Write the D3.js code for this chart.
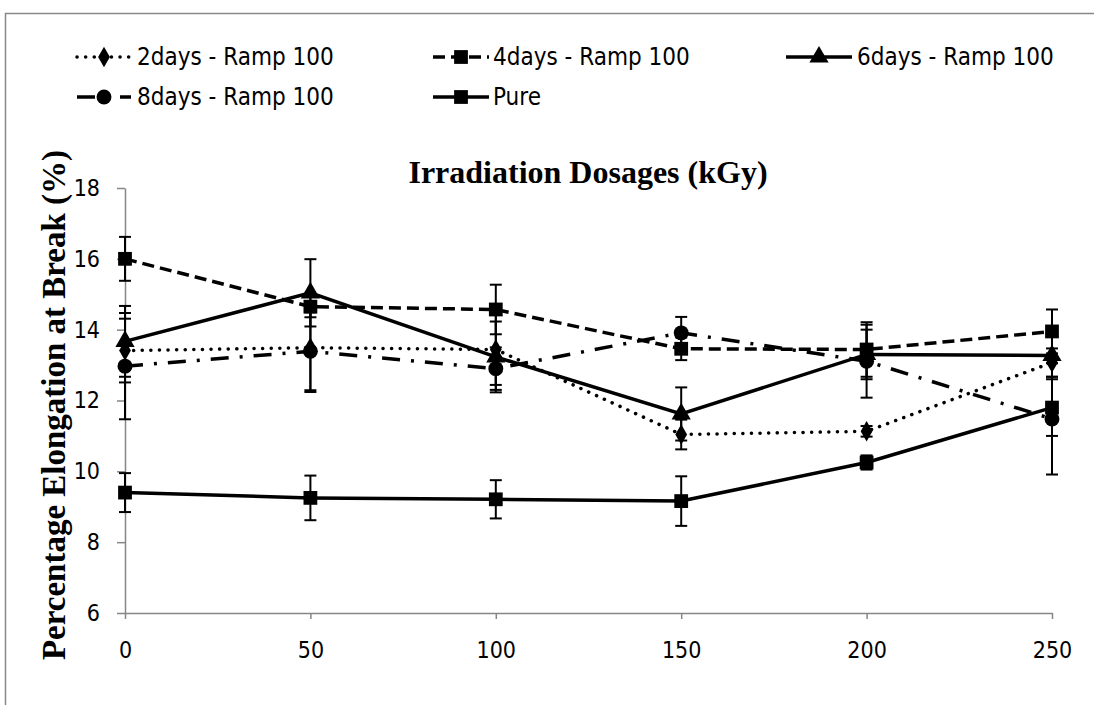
<!DOCTYPE html>
<meta charset="utf-8">
<style>
body { margin: 0; background: #fff; }
svg { display: block; }
.tick text, .legend text {
    font-family: "DejaVu Sans Condensed", "DejaVu Sans", sans-serif;
    font-stretch: condensed;
    fill: #000;
}
.axis path, .axis line { stroke: #868686; stroke-width: 1.5px; }
.series path.line { fill: none; stroke: #000; stroke-width: 3.5px; }
.err { stroke: #000; stroke-width: 2px; }
.ttl { font-family: "Liberation Serif", "Times New Roman", serif; font-weight: bold; }
</style>
<body>
<div id="chart"></div>
<script src="https://cdnjs.cloudflare.com/ajax/libs/d3/7.8.5/d3.min.js"></script>
<script>
// irradiation dose (kGy)
var doses = [0, 50, 100, 150, 200, 250];

var seriesNames = ["2days - Ramp 100", "4days - Ramp 100", "6days - Ramp 100", "8days - Ramp 100", "Pure"];

// elongation at break (%)
var days2 = [13.41, 13.49, 13.44, 11.04, 11.13, 13.07];
var days4 = [16.0, 14.65, 14.57, 13.46, 13.44, 13.95];
var days6 = [13.67, 15.04, 13.23, 11.62, 13.3, 13.27];
var days8 = [12.97, 13.39, 12.9, 13.91, 13.11, 11.48];
var pure  = [9.4, 9.25, 9.21, 9.16, 10.25, 11.8];

// error bar half widths
var err2 = [0.9, 1.25, 1.0, 0.42, 0.15, 0.4];
var err4 = [0.62, 0.3, 0.7, 0.32, 0.77, 0.62];
var err6 = [1.0, 0.95, 1.0, 0.75, 0.7, 0.6];
var err8 = [1.5, 1.1, 0.6, 0.45, 1.03, 1.57];
var errP = [0.55, 0.63, 0.54, 0.7, 0.2, 0.8];

var yTicks = [6, 8, 10, 12, 14, 16, 18];
var xTicks = [0, 50, 100, 150, 200, 250];

var W = 1094, H = 705;
var svg = d3.select("#chart").append("svg").attr("width", W).attr("height", H);

// outer chart frame (top and left edge visible)
svg.append("path")
    .attr("d", "M5.5,705 V13.5 H1094")
    .attr("fill", "none")
    .attr("stroke", "#888")
    .attr("stroke-width", 1.5);

var x = d3.scaleLinear().domain([0, 250]).range([125, 1052]);
var y = d3.scaleLinear().domain([6, 18]).range([613, 188]);

svg.append("g")
    .attr("class", "axis")
    .attr("transform", "translate(0," + y(6) + ")")
    .call(d3.axisBottom(x).tickValues(xTicks).tickSize(6).tickSizeOuter(0).tickPadding(23))
    .selectAll("text").style("font-size", "23px");

svg.append("g")
    .attr("class", "axis")
    .attr("transform", "translate(" + x(0) + ",0)")
    .call(d3.axisLeft(y).tickValues(yTicks).tickSize(8).tickSizeOuter(0).tickPadding(17))
    .selectAll("text").style("font-size", "23px");

svg.append("text")
    .attr("class", "ttl")
    .attr("x", 588).attr("y", 183)
    .attr("text-anchor", "middle")
    .style("font-size", "32px")
    .text("Irradiation Dosages (kGy)");

svg.append("text")
    .attr("class", "ttl")
    .attr("transform", "translate(65,405) rotate(-90)")
    .attr("text-anchor", "middle")
    .style("font-size", "33px")
    .text("Percentage Elongation at Break (%)");

var series = [
    { name: seriesNames[0], vals: days2, err: err2, dash: "0.1 8.5", cap: "round", sym: d3.symbolDiamond, size: 120 },
    { name: seriesNames[1], vals: days4, err: err4, dash: "12 6", cap: "butt", sym: d3.symbolSquare, size: 190 },
    { name: seriesNames[2], vals: days6, err: err6, dash: null, cap: "butt", sym: d3.symbolTriangle, size: 160 },
    { name: seriesNames[3], vals: days8, err: err8, dash: "18 11 3 11", cap: "butt", sym: d3.symbolCircle, size: 175 },
    { name: seriesNames[4], vals: pure, err: errP, dash: null, cap: "butt", sym: d3.symbolSquare, size: 190 }
];

var line = d3.line().x(function(d) { return x(d[0]); }).y(function(d) { return y(d[1]); });

// error bars first
series.forEach(function(s) {
    var g = svg.append("g");
    doses.forEach(function(dv, i) {
        var hi = y(s.vals[i] + s.err[i]), lo = y(s.vals[i] - s.err[i]), cx = x(dv);
        g.append("line").attr("class", "err").attr("x1", cx).attr("x2", cx).attr("y1", hi).attr("y2", lo);
        g.append("line").attr("class", "err").attr("x1", cx - 6).attr("x2", cx + 6).attr("y1", hi).attr("y2", hi);
        g.append("line").attr("class", "err").attr("x1", cx - 6).attr("x2", cx + 6).attr("y1", lo).attr("y2", lo);
    });
});

series.forEach(function(s) {
    var g = svg.append("g").attr("class", "series");
    var pts = doses.map(function(dv, i) { return [dv, s.vals[i]]; });
    g.append("path").attr("class", "line")
        .attr("d", line(pts))
        .attr("stroke-dasharray", s.dash)
        .attr("stroke-linecap", s.cap);
    g.selectAll("path.mk").data(pts).enter().append("path")
        .attr("class", "mk")
        .attr("d", d3.symbol().type(s.sym).size(s.size))
        .attr("transform", function(d) { return "translate(" + x(d[0]) + "," + y(d[1]) + ")"; })
        .attr("fill", "#000");
});

// legend: [line start, line end, text start, row y]
var legPos = [[77, 131, 137, 57], [433, 489, 493, 57], [786, 852, 857, 57], [77, 131, 137, 97], [433, 489, 493, 97]];
var leg = svg.append("g").attr("class", "legend");
series.forEach(function(s, i) {
    var p = legPos[i];
    var g = leg.append("g").attr("transform", "translate(0," + p[3] + ")");
    g.append("line").attr("x1", p[0]).attr("x2", p[1]).attr("y1", 0).attr("y2", 0)
        .attr("stroke", "#000").attr("stroke-width", 3.5)
        .attr("stroke-dasharray", s.dash).attr("stroke-linecap", s.cap);
    g.append("path").attr("d", d3.symbol().type(s.sym).size(s.size))
        .attr("transform", "translate(" + (p[0] + p[1]) / 2 + ",0)").attr("fill", "#000");
    g.append("text").attr("x", p[2]).attr("y", 0).attr("dy", "0.35em")
        .style("font-size", "24px").text(s.name);
});
</script>
</body>
